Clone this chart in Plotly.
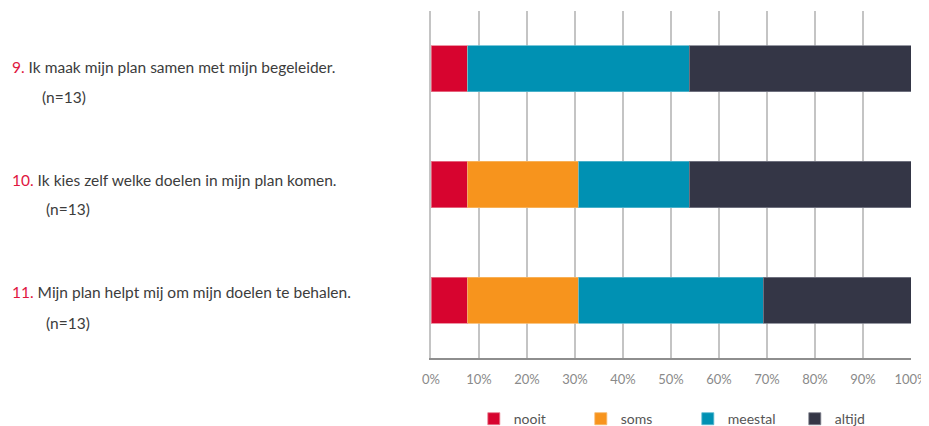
import plotly.graph_objects as go

# survey data (counts, n=13 per question)
numbers = ["9.", "10.", "11."]
statements = [
    "Ik maak mijn plan samen met mijn begeleider.",
    "Ik kies zelf welke doelen in mijn plan komen.",
    "Mijn plan helpt mij om mijn doelen te behalen.",
]
n_resp = [13, 13, 13]
nooit = [1, 1, 1]
soms = [0, 3, 3]
meestal = [6, 3, 5]
altijd = [6, 6, 4]

answers = ["nooit", "soms", "meestal", "altijd"]
colors = ["#D7042F", "#F7941D", "#0091B3", "#343646"]
edge = ["#E87A8E", "#F8B868", "#5BB9D0", "#7D7F8C"]

# label placement (pixel shifts of the two text lines, per question)
line1_shift = [2, 5, 8]
line2_shift = [-28, -24, -23]
line2_x = [-391, -387, -387]

cats = ["Q" + n.rstrip(".") for n in numbers]
fig = go.Figure()
for name, vals, col, ec in zip(answers, [nooit, soms, meestal, altijd], colors, edge):
    fig.add_trace(go.Bar(
        y=cats, x=vals, orientation="h", name=name,
        marker=dict(color=col, line=dict(color=ec, width=0.8)),
        width=0.40,
    ))

font = "Lato, 'Open Sans', sans-serif"
for i, (num, txt, n) in enumerate(zip(numbers, statements, n_resp)):
    fig.add_annotation(
        xref="paper", yref="y", x=-421 / 480, y=i, xanchor="left", yanchor="middle",
        text=f"<span style='color:#E0163F'>{num}</span> {txt}", showarrow=False,
        yshift=line1_shift[i],
        font=dict(family=font, size=15.5, color="#3C3C3C"),
    )
    fig.add_annotation(
        xref="paper", yref="y", x=line2_x[i] / 480, y=i,
        xanchor="left", yanchor="middle",
        text=f"(n={n})", showarrow=False, yshift=line2_shift[i],
        font=dict(family=font, size=15.5, color="#3C3C3C"),
    )

# page body has an 8px margin, so the figure is 8px smaller and shifted
fig.update_layout(
    barmode="stack", barnorm="percent",
    width=921, height=418,
    margin=dict(l=423, r=18, t=3, b=68, autoexpand=False),
    plot_bgcolor="white", paper_bgcolor="white",
    font=dict(family=font, size=14, color="#404040"),
    legend=dict(
        orientation="h", x=0.535, xanchor="center", y=-0.13, yanchor="top",
        font=dict(family=font, size=14, color="#555555"),
        entrywidth=62, traceorder="normal",
    ),
)
fig.update_xaxes(
    range=[0, 100], dtick=10, ticksuffix="%", showgrid=True, gridcolor="#C4C4C4", gridwidth=1.5,
    showline=True, linecolor="#8E8E8E", linewidth=2, zeroline=False,
    tickfont=dict(family=font, size=13, color="#8A8A8A"), ticklabelstandoff=8,
)
fig.update_yaxes(
    type="category", range=[2.5, -0.5], showticklabels=False, showgrid=False, showline=True,
    linecolor="#C4C4C4", linewidth=1.5,
)

fig.write_html("out.html")
